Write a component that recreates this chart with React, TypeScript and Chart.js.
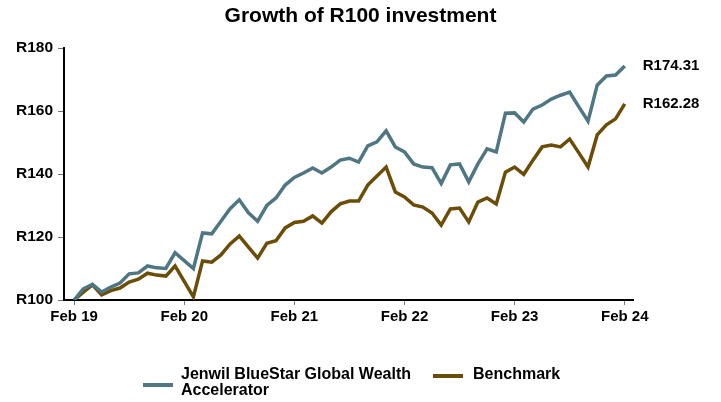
import React, { useEffect, useRef } from "react";
import { Chart, registerables } from "chart.js";

Chart.register(...registerables);

const FONT = '"Liberation Sans", Arial, Helvetica, sans-serif';

const chartTitle = "Growth of R100 investment";
const fundName = "Jenwil BlueStar Global Wealth Accelerator";
const benchName = "Benchmark";
const fundColor = "#4F7783";
const benchColor = "#6B4D08";

const tickLabels = ["Feb 19", "Feb 20", "Feb 21", "Feb 22", "Feb 23", "Feb 24"];
const tickMonths = [0, 12, 24, 36, 48, 60];

const fund = [
  100, 103.5, 105, 102.5, 104.1, 105.4, 108.3, 108.6, 110.8, 110.2, 110, 115,
  112.5, 110, 121.3, 121, 125, 129, 131.8, 127.7, 125, 130, 132.4, 136.5,
  138.9, 140.3, 141.9, 140.3, 142.2, 144.4, 145, 143.8, 148.9, 150.2, 153.7, 148.6,
  147, 143.2, 142.2, 142, 137, 142.9, 143.2, 137.5, 143.2, 148, 147, 159.3,
  159.4, 156.5, 160.6, 161.9, 163.8, 165, 166, 161.3, 156.8, 168.2, 171.1, 171.4, 174.31,
];

const benchmark = [
  100, 102.5, 104.8, 101.6, 103, 103.8, 105.7, 106.6, 108.5, 107.9, 107.6, 110.8,
  105.9, 101, 112.4, 112, 114.3, 117.8, 120.3, 116.8, 113.3, 118, 118.8, 122.9,
  124.6, 125, 126.7, 124.4, 128, 130.5, 131.4, 131.4, 136.5, 139.4, 142.2, 134.3,
  132.7, 130.2, 129.5, 127.6, 123.8, 128.9, 129.2, 124.8, 131.1, 132.4, 130.5, 140.6,
  142.2, 139.9, 144.4, 148.6, 149.2, 148.6, 151.1, 146.7, 142.2, 152.4, 155.6, 157.5, 162.28,
];

const endLabels = {
  id: "endLabels",
  afterDatasetsDraw(chart: any) {
    const ctx = chart.ctx;
    chart.data.datasets.forEach((ds: any, i: number) => {
      const meta = chart.getDatasetMeta(i);
      const pt = meta.data[meta.data.length - 1];
      const last = ds.data[ds.data.length - 1].y;
      ctx.save();
      ctx.font = `bold 15px ${FONT}`;
      ctx.fillStyle = "#000";
      ctx.textAlign = "left";
      ctx.textBaseline = "middle";
      ctx.fillText("R" + last.toFixed(2), pt.x + 18, pt.y);
      ctx.restore();
    });
  },
};

const centeredTitle = {
  id: "centeredTitle",
  afterDraw(chart: any) {
    const ctx = chart.ctx;
    ctx.save();
    ctx.font = `bold 21px ${FONT}`;
    ctx.fillStyle = "#000";
    ctx.textAlign = "center";
    ctx.textBaseline = "alphabetic";
    ctx.fillText(chartTitle, chart.width / 2, 22);
    ctx.restore();
  },
};

export default function App() {
  const ref = useRef<HTMLCanvasElement | null>(null);

  useEffect(() => {
    if (!ref.current) return;
    Chart.defaults.font.family = FONT;
    const chart = new Chart(ref.current, {
      type: "line",
      data: {
        datasets: [
          {
            label: fundName,
            data: fund.map((v, i) => ({ x: i, y: v })),
            borderColor: fundColor,
            backgroundColor: fundColor,
            borderWidth: 3.5,
            pointRadius: 0,
            tension: 0,
          },
          {
            label: benchName,
            data: benchmark.map((v, i) => ({ x: i, y: v })),
            borderColor: benchColor,
            backgroundColor: benchColor,
            borderWidth: 3.5,
            pointRadius: 0,
            tension: 0,
          },
        ],
      },
      options: {
        animation: false,
        responsive: true,
        maintainAspectRatio: false,
        devicePixelRatio: 1,
        events: [],
        layout: { padding: { left: 0, right: 88, top: 48, bottom: 72 } },
        plugins: {
          legend: { display: false },
          tooltip: { enabled: false },
          title: { display: false },
        },
        scales: {
          x: {
            type: "linear",
            min: -1.1,
            max: 60.9,
            afterBuildTicks: (s: any) => {
              s.ticks = tickMonths.map((v) => ({ value: v }));
            },
            afterFit: (s: any) => {
              s.height = 30;
            },
            ticks: {
              autoSkip: false,
              maxRotation: 0,
              padding: 3,
              color: "#000",
              font: { size: 15, weight: "bold", family: FONT },
              callback: (_v: any, idx: number) => tickLabels[idx],
            },
            grid: {
              display: true,
              drawOnChartArea: false,
              drawTicks: true,
              tickLength: 5,
              color: "#777",
              lineWidth: 1,
            },
            border: { display: true, color: "#000", width: 2 },
          },
          y: {
            min: 100,
            max: 180,
            afterFit: (s: any) => {
              s.width = 64;
            },
            ticks: {
              stepSize: 20,
              padding: 5,
              color: "#000",
              font: { size: 15.5, weight: "bold", family: FONT },
              callback: (v: any) => "R" + v,
            },
            grid: {
              display: true,
              drawOnChartArea: false,
              drawTicks: true,
              tickLength: 6,
              color: "#777",
              lineWidth: 1,
            },
            border: { display: true, color: "#000", width: 2 },
          },
        },
      },
      plugins: [endLabels, centeredTitle],
    } as any);
    return () => chart.destroy();
  }, []);

  const textStyle: React.CSSProperties = {
    position: "absolute",
    fontFamily: FONT,
    fontWeight: "bold",
    fontSize: 16,
    lineHeight: "16px",
    color: "#000",
  };

  return (
    <div style={{ position: "fixed", left: 0, top: 0, width: 721, height: 402, background: "#fff" }}>
      <div style={{ position: "absolute", left: 0, top: 0, width: 721, height: 402 }}>
        <canvas ref={ref} />
      </div>
      <div style={{ position: "absolute", left: 143, top: 382.5, width: 30, height: 4, background: fundColor }} />
      <div style={{ ...textStyle, left: 181, top: 366, width: 240 }}>{fundName}</div>
      <div style={{ position: "absolute", left: 433, top: 373.5, width: 30, height: 4, background: benchColor }} />
      <div style={{ ...textStyle, left: 473, top: 366, whiteSpace: "nowrap" }}>{benchName}</div>
    </div>
  );
}
